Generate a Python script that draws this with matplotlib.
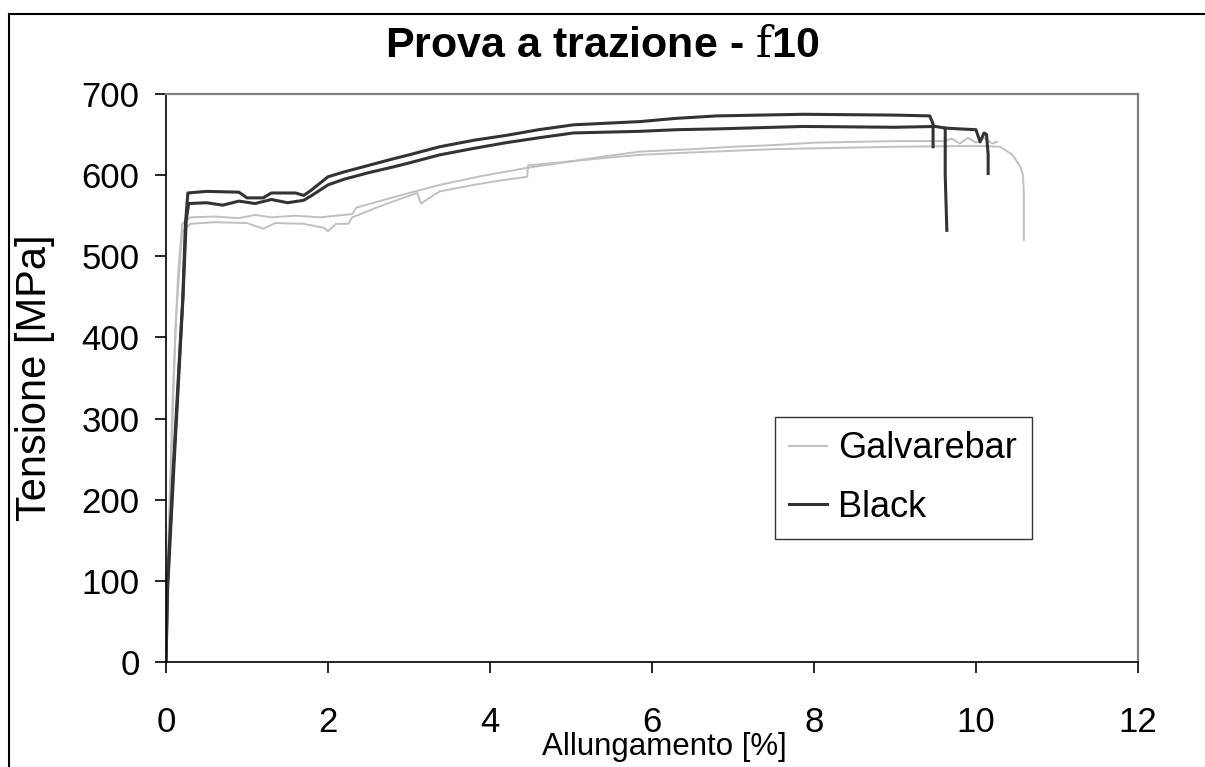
import matplotlib
matplotlib.use('Agg')
import matplotlib.pyplot as plt
from matplotlib.lines import Line2D

plt.rcParams['font.family'] = ['Liberation Sans', 'DejaVu Sans']
plt.rcParams['mathtext.fontset'] = 'custom'
plt.rcParams['mathtext.rm'] = 'DejaVu Serif'

# Galvarebar specimens (strain %, stress MPa)
galv1_x = [0, 0.03, 0.08, 0.15, 0.2, 0.3, 0.6, 0.9, 1.1, 1.3, 1.6, 1.9, 2.1, 2.3, 2.35,
           2.6, 3.0, 3.38, 3.9, 4.46, 5.0, 5.4, 5.85, 6.5, 7.0, 7.5, 8.0, 9.02, 9.6,
           9.7, 9.8, 9.9, 10.0, 10.1, 10.2, 10.26]
galv1_y = [0, 150, 320, 480, 540, 548, 549, 547, 551, 548, 550, 548, 550, 552, 560,
           567, 578, 588, 599, 609, 617, 623, 629, 632, 635, 637, 640, 642, 642,
           645, 639, 646, 640, 646, 639, 641]
galv2_x = [0, 0.05, 0.12, 0.2, 0.3, 0.6, 1.0, 1.2, 1.35, 1.7, 1.95, 2.0, 2.1, 2.25,
           2.3, 2.6, 2.9, 3.1, 3.15, 3.3, 3.38, 3.8, 4.1, 4.46, 4.47, 5.0, 5.4, 5.85,
           6.5, 7.5, 8.5, 9.02, 10.0, 10.3, 10.45, 10.55, 10.58, 10.59, 10.59]
galv2_y = [0, 200, 420, 530, 540, 542, 541, 534, 541, 540, 535, 531, 540, 540,
           548, 560, 571, 578, 565, 575, 580, 588, 593, 598, 612, 617, 621, 625,
           628, 632, 634, 635, 636, 635, 625, 610, 600, 580, 520]

# Black specimens
black1_x = [0, 0.017, 0.09, 0.206, 0.24, 0.27, 0.5, 0.9, 1.0, 1.2, 1.3, 1.6, 1.7,
            1.8, 2.0, 2.2, 2.5, 2.8, 3.0, 3.38, 3.8, 4.2, 4.6, 5.03, 5.85, 6.3,
            6.8, 7.87, 9.0, 9.43, 9.47, 9.47]
black1_y = [0, 93, 240, 446, 540, 578, 580, 579, 572, 572, 578, 578, 575,
            582, 598, 604, 612, 620, 625, 635, 643, 649, 656, 662, 666, 670,
            673, 675, 674, 673, 663, 635]
black2_x = [0, 0.02, 0.1, 0.21, 0.25, 0.28, 0.5, 0.7, 0.9, 1.1, 1.3, 1.5, 1.7,
            1.8, 2.0, 2.2, 2.5, 2.8, 3.0, 3.38, 3.8, 4.2, 4.6, 5.03, 5.85, 6.3,
            6.8, 7.87, 9.0, 9.5, 9.62, 9.62, 9.64]
black2_y = [0, 90, 245, 450, 545, 565, 566, 563, 568, 565, 570, 566, 569,
            575, 588, 595, 603, 610, 615, 625, 633, 640, 646, 652, 654, 656,
            657, 660, 659, 660, 658, 600, 532]
black3_x = [9.62, 9.8, 10.0, 10.05, 10.1, 10.13, 10.15, 10.15]
black3_y = [658, 657, 656, 641, 652, 650, 625, 602]

x_ticks = [0, 2, 4, 6, 8, 10, 12]
y_ticks = [0, 100, 200, 300, 400, 500, 600, 700]

fig = plt.figure(figsize=(12.05, 7.67), dpi=100)
ax = fig.add_axes([166 / 1205, 1 - 662 / 767, 972 / 1205, 568 / 767])

gray = '#c0c0c0'
dark = '#333333'
ax.plot(galv1_x, galv1_y, color=gray, lw=1.4, label='Galvarebar')
ax.plot(galv2_x, galv2_y, color=gray, lw=1.4)
ax.plot(black1_x, black1_y, color=dark, lw=2.2, label='Black')
ax.plot(black2_x, black2_y, color=dark, lw=2.2)
ax.plot(black3_x, black3_y, color=dark, lw=2.2)

ax.set_xlim(0, 12)
ax.set_ylim(0, 700)
ax.set_xticks(x_ticks)
ax.set_yticks(y_ticks)
ax.tick_params(direction='out', length=8, width=1.2, labelsize=25)
ax.tick_params(axis='x', pad=24)
ax.tick_params(axis='y', pad=11)

for side in ['left', 'bottom']:
    ax.spines[side].set_color('black')
    ax.spines[side].set_linewidth(1.2)
for side in ['top', 'right']:
    ax.spines[side].set_color('#808080')
    ax.spines[side].set_linewidth(1.6)

ax.set_xlabel('Allungamento [%]', fontsize=22.5, va='center')
ax.xaxis.set_label_coords((664 - 166) / 972, -(747 - 662) / 568)
ax.set_ylabel('Tensione [MPa]', fontsize=30, va='center')
ax.yaxis.set_label_coords(-(166 - 35) / 972, 0.5)
fig.text(0.5, 1 - 46 / 767, r'Prova a trazione - $\mathrm{f}$10', ha='center', va='center',
         fontsize=31, fontweight='bold')

leg = ax.legend(loc='upper left', bbox_to_anchor=(775 / 1205, 1 - 417 / 767),
                bbox_transform=fig.transFigure, fontsize=26, frameon=True,
                fancybox=False, edgecolor='black', handlelength=1.05,
                handletextpad=0.3, labelspacing=0.65, borderpad=0.4,
                borderaxespad=0)
leg.get_frame().set_linewidth(1.0)

# outer chart border (cropped on right and bottom)
bx, by = 9 / 1205, 1 - 14 / 767
fig.add_artist(Line2D([bx, bx], [0, by], transform=fig.transFigure, color='black', lw=1.5))
fig.add_artist(Line2D([bx, 1], [by, by], transform=fig.transFigure, color='black', lw=1.5))

fig.savefig('out.png', dpi=100, facecolor='white')
